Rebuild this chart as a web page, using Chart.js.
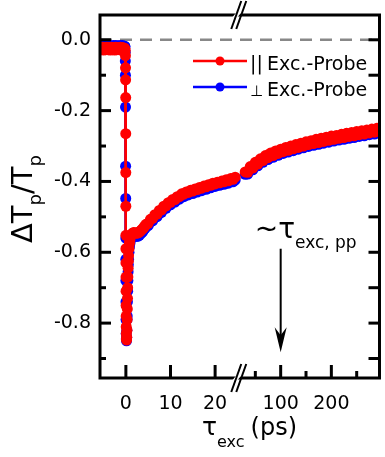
<!DOCTYPE html>
<html>
<head>
<meta charset="utf-8">
<script src="https://cdn.jsdelivr.net/npm/chart.js@4.4.1/dist/chart.umd.min.js"></script>
<style>
  html, body { margin: 0; padding: 0; background: #fff; }
</style>
</head>
<body>
<canvas id="pumpProbe" width="385" height="457"></canvas>
<script>
// broken-axis pump-probe trace, left panel in ps around t0, right panel long delays

const FONT = '"DejaVu Sans", sans-serif';
const RED = '#ff0000';
const BLUE = '#0000ff';

// axis ranges (ps / dT/T)
const X_LEFT_MIN = -5.8, X_LEFT_END = 25.3;
const X_RIGHT_START = 17.3, X_RIGHT_MAX = 295;
const Y_MIN = -0.955, Y_MAX = 0.07;

// ticks
const Y_MAJOR = [0, -0.2, -0.4, -0.6, -0.8];
const Y_MINOR = [-0.1, -0.3, -0.5, -0.7, -0.9];
const X_LEFT_TICKS = [0, 10, 20];
const X_RIGHT_MAJOR = [100, 200];
const X_RIGHT_MINOR = [50, 150, 250];
const ARROW_AT = 100;

// || Exc.-Probe, short delays
const T_PAR_L = [-5.75, -5.5, -5.25, -5.0, -4.75, -4.5, -4.25, -4.0, -3.75, -3.5, -3.25, -3.0,
  -2.75, -2.5, -2.25, -2.0, -1.75, -1.5, -1.25, -1.0, -0.75, -0.5, -0.25,
  -0.15, -0.10, -0.08, -0.06, -0.04, -0.03, -0.02, -0.01, 0.00,
  0.01, 0.02, 0.03, 0.04, 0.05, 0.06, 0.08, 0.10, 0.13, 0.16, 0.20, 0.24, 0.28, 0.32, 0.36, 0.40,
  0.45, 0.50, 0.55, 0.60, 0.70, 0.80, 0.90,
  1.00, 1.25, 1.50, 1.75, 2.00, 2.25, 2.50, 2.75, 3.00, 3.25, 3.50, 3.75, 4.00, 4.25,
  4.5, 5.0, 5.5, 6.0, 6.5, 7.0, 7.5, 8.0, 8.5, 9.0, 9.5, 10.0, 10.5, 11.0, 11.5, 12.0,
  12.5, 13.0, 13.5, 14.0, 14.5, 15.0, 15.5, 16.0, 16.5, 17.0, 17.5, 18.0, 18.5, 19.0,
  19.5, 20.0, 20.5, 21.0, 21.5, 22.0, 22.5, 23.0, 23.5, 24.0, 24.5];
const V_PAR_L = [-0.021, -0.028, -0.021, -0.029, -0.022, -0.028, -0.021, -0.028, -0.022, -0.029, -0.021, -0.028,
  -0.022, -0.029, -0.021, -0.028, -0.022, -0.028, -0.021, -0.029, -0.022, -0.028, -0.024,
  -0.030, -0.045, -0.079, -0.113, -0.163, -0.265, -0.375, -0.470, -0.552,
  -0.590, -0.630, -0.670, -0.710, -0.750, -0.780, -0.810, -0.830, -0.845, -0.848, -0.840, -0.820, -0.790, -0.760, -0.730, -0.700,
  -0.670, -0.645, -0.625, -0.610, -0.590, -0.575, -0.565,
  -0.557, -0.550, -0.546, -0.544, -0.545, -0.546, -0.546, -0.545, -0.543, -0.540, -0.537, -0.534, -0.530, -0.526,
  -0.521, -0.518, -0.507, -0.504, -0.494, -0.492, -0.482, -0.480, -0.470, -0.469, -0.460, -0.459, -0.451, -0.451, -0.443, -0.443,
  -0.435, -0.436, -0.430, -0.431, -0.425, -0.427, -0.421, -0.423, -0.417, -0.419, -0.413, -0.415, -0.409, -0.411,
  -0.405, -0.407, -0.402, -0.404, -0.399, -0.401, -0.395, -0.398, -0.392, -0.394, -0.388];

// ⊥ Exc.-Probe, short delays
const T_PERP_L = [-5.75, -5.5, -5.25, -5.0, -4.75, -4.5, -4.25, -4.0, -3.75, -3.5, -3.25, -3.0,
  -2.75, -2.5, -2.25, -2.0, -1.75, -1.5, -1.25, -1.0, -0.75, -0.5, -0.25,
  -0.20, -0.15, -0.12, -0.10, -0.08, -0.06, -0.04, -0.02, -0.01, 0.00, 0.02, 0.04, 0.07, 0.10, 0.14,
  0.18, 0.22, 0.26, 0.30, 0.35, 0.40, 0.45, 0.50, 0.55, 0.60, 0.70, 0.80, 0.90,
  1.00, 1.25, 1.50, 1.75, 2.00, 2.25, 2.50, 2.75, 3.00, 3.25, 3.50, 3.75, 4.00, 4.25,
  4.5, 5.0, 5.5, 6.0, 6.5, 7.0, 7.5, 8.0, 8.5, 9.0, 9.5, 10.0, 10.5, 11.0, 11.5, 12.0,
  12.5, 13.0, 13.5, 14.0, 14.5, 15.0, 15.5, 16.0, 16.5, 17.0, 17.5, 18.0, 18.5, 19.0,
  19.5, 20.0, 20.5, 21.0, 21.5, 22.0, 22.5, 23.0, 23.5, 24.0, 24.5];
const V_PERP_L = [-0.016, -0.021, -0.016, -0.022, -0.017, -0.021, -0.016, -0.022, -0.016, -0.021, -0.017, -0.022,
  -0.016, -0.021, -0.016, -0.022, -0.017, -0.021, -0.016, -0.022, -0.016, -0.021, -0.018,
  -0.020, -0.035, -0.060, -0.100, -0.190, -0.357, -0.448, -0.560, -0.620, -0.680, -0.740, -0.790, -0.830, -0.845, -0.850,
  -0.840, -0.820, -0.790, -0.780, -0.740, -0.710, -0.680, -0.655, -0.635, -0.620, -0.600, -0.585, -0.575,
  -0.567, -0.559, -0.555, -0.553, -0.554, -0.555, -0.555, -0.554, -0.552, -0.549, -0.545, -0.542, -0.537, -0.533,
  -0.529, -0.525, -0.515, -0.511, -0.502, -0.499, -0.490, -0.487, -0.478, -0.476, -0.468, -0.466, -0.459, -0.458, -0.451, -0.450,
  -0.443, -0.443, -0.438, -0.438, -0.433, -0.434, -0.429, -0.430, -0.425, -0.426, -0.421, -0.422, -0.417, -0.418,
  -0.413, -0.414, -0.410, -0.411, -0.407, -0.408, -0.403, -0.405, -0.400, -0.401, -0.396];

// long delays (both polarisations share the time grid)
const T_LONG = [30, 35, 40, 45, 50, 55, 60, 65, 70, 75, 80, 85, 90, 95, 100, 105, 110, 115, 120, 125,
  130, 135, 140, 145, 150, 155, 160, 165, 170, 175, 180, 185, 190, 195, 200, 205, 210, 215, 220, 225,
  230, 235, 240, 245, 250, 255, 260, 265, 270, 275, 280, 285, 290, 295];
const V_PAR_R = [-0.373, -0.374, -0.358, -0.362, -0.346, -0.351, -0.336, -0.341, -0.327, -0.333, -0.320, -0.327,
  -0.314, -0.321, -0.309, -0.316, -0.304, -0.312, -0.300, -0.308, -0.296, -0.304, -0.292, -0.300,
  -0.288, -0.296, -0.285, -0.293, -0.281, -0.290, -0.278, -0.287, -0.275, -0.284, -0.272, -0.281,
  -0.270, -0.278, -0.267, -0.276, -0.264, -0.273, -0.262, -0.271, -0.259, -0.268, -0.257, -0.266,
  -0.255, -0.263, -0.252, -0.261, -0.250, -0.259];
const V_PERP_R = [-0.380, -0.379, -0.365, -0.367, -0.353, -0.356, -0.343, -0.346, -0.334, -0.338, -0.327, -0.332,
  -0.321, -0.326, -0.316, -0.321, -0.311, -0.317, -0.307, -0.313, -0.303, -0.309, -0.299, -0.305,
  -0.295, -0.301, -0.292, -0.298, -0.288, -0.295, -0.285, -0.292, -0.282, -0.289, -0.279, -0.286,
  -0.277, -0.283, -0.274, -0.281, -0.271, -0.278, -0.269, -0.276, -0.266, -0.273, -0.264, -0.271,
  -0.262, -0.268, -0.259, -0.266, -0.257, -0.264];

// share of the plot width given to the left panel
const BREAK_FRAC = 140 / 282;

const toPts = (xs, ys) => xs.map((x, i) => ({ x, y: ys[i] }));

function series(data, color, xAxisID) {
  return {
    data, xAxisID, yAxisID: 'y',
    borderColor: color, backgroundColor: color,
    borderWidth: 2.5, pointRadius: 5.5, pointBorderWidth: 0,
    tension: 0, clip: 0
  };
}

// ── text helpers ──────────────────────────────────────────────
function drawRuns(ctx, x, y, runs) {
  // runs: [text, size, baselineShift]
  runs.forEach(([txt, size, dy]) => {
    ctx.font = size + 'px ' + FONT;
    ctx.fillText(txt, x, y + dy);
    x += ctx.measureText(txt).width;
  });
  return x;
}

// ── axes, ticks, legend, annotation ───────────────────────────
const decor = {
  id: 'decor',
  beforeDatasetsDraw(chart) {
    const { ctx, chartArea: a, scales: { y } } = chart;
    const y0 = y.getPixelForValue(0);
    ctx.save();
    ctx.strokeStyle = '#888';
    ctx.lineWidth = 2.5;
    ctx.setLineDash([12, 8]);
    ctx.beginPath(); ctx.moveTo(a.left, y0); ctx.lineTo(a.right, y0); ctx.stroke();
    ctx.restore();
  },
  afterDatasetsDraw(chart) {
    const { ctx, chartArea: a, scales: { xL, xR, y } } = chart;
    ctx.save();
    ctx.strokeStyle = '#000';
    ctx.fillStyle = '#000';
    ctx.lineWidth = 3;
    ctx.lineCap = 'butt';

    // frame
    ctx.strokeRect(a.left, a.top, a.right - a.left, a.bottom - a.top);

    // y ticks, left and right
    const line = (x1, y1, x2, y2) => { ctx.beginPath(); ctx.moveTo(x1, y1); ctx.lineTo(x2, y2); ctx.stroke(); };
    Y_MAJOR.forEach(v => { const p = y.getPixelForValue(v); line(a.left, p, a.left + 11, p); line(a.right, p, a.right - 11, p); });
    Y_MINOR.forEach(v => { const p = y.getPixelForValue(v); line(a.left, p, a.left + 6, p); line(a.right, p, a.right - 11, p); });

    // x ticks
    X_LEFT_TICKS.forEach(v => { const p = xL.getPixelForValue(v); line(p, a.bottom, p, a.bottom - 13); });
    X_RIGHT_MAJOR.forEach(v => { const p = xR.getPixelForValue(v); line(p, a.bottom, p, a.bottom - 13); });
    X_RIGHT_MINOR.forEach(v => { const p = xR.getPixelForValue(v); line(p, a.bottom, p, a.bottom - 7); });

    // tick labels
    ctx.font = '19px ' + FONT;
    ctx.textAlign = 'right';
    ctx.textBaseline = 'middle';
    Y_MAJOR.forEach(v => ctx.fillText(v.toFixed(1), a.left - 9, y.getPixelForValue(v)));
    ctx.textAlign = 'center';
    X_LEFT_TICKS.forEach(v => ctx.fillText(String(v), xL.getPixelForValue(v), a.bottom + 26));
    X_RIGHT_MAJOR.forEach(v => ctx.fillText(String(v), xR.getPixelForValue(v), a.bottom + 26));

    // axis break marks
    const bx = xL.getPixelForValue(X_LEFT_END);
    [a.top, a.bottom].forEach(ay => {
      ctx.fillStyle = '#fff';
      ctx.beginPath();
      ctx.moveTo(bx - 7, ay + 3); ctx.lineTo(bx - 2, ay - 3); ctx.lineTo(bx + 3, ay - 3); ctx.lineTo(bx - 2, ay + 3);
      ctx.closePath(); ctx.fill();
      ctx.lineWidth = 2;
      [-2.5, 2.5].forEach(o => line(bx + o - 5, ay + 14, bx + o + 5, ay - 14));
    });
    ctx.fillStyle = '#000';

    // legend
    ctx.textAlign = 'left';
    ctx.textBaseline = 'alphabetic';
    [[RED, '||', 61, 19], [BLUE, '\u22A5', 87, 15]].forEach(([c, sym, ly, fs]) => {
      ctx.strokeStyle = c; ctx.fillStyle = c; ctx.lineWidth = 2.5;
      line(193, ly, 247, ly);
      ctx.beginPath(); ctx.arc(220, ly, 4.5, 0, Math.PI * 2); ctx.fill();
      ctx.fillStyle = '#000';
      ctx.font = fs + 'px ' + FONT;
      ctx.fillText(sym, 250, ly + 9);
      ctx.font = '19px ' + FONT;
      ctx.fillText('Exc.-Probe', 267, ly + 9);
    });

    // arrow at ~tau_exc,pp
    const ax = xR.getPixelForValue(ARROW_AT);
    const yTop = y.getPixelForValue(-0.59), yTip = y.getPixelForValue(-0.882);
    ctx.strokeStyle = '#000'; ctx.fillStyle = '#000'; ctx.lineWidth = 2;
    line(ax, yTop, ax, yTip - 12);
    ctx.beginPath();
    ctx.moveTo(ax, yTip); ctx.lineTo(ax - 6, yTip - 25); ctx.lineTo(ax, yTip - 17); ctx.lineTo(ax + 6, yTip - 25);
    ctx.closePath(); ctx.fill();
    drawRuns(ctx, ax - 26, yTop - 11, [['~\u03C4', 28, 0], ['exc, pp', 17, 10]]);

    // x title
    let tx = drawRuns(ctx, 202, 435, [['\u03C4', 25, 0], ['exc', 16, 12]]);
    drawRuns(ctx, tx + 6, 435, [['(ps)', 24, 0]]);

    // y title
    ctx.translate(32, 243);
    ctx.rotate(-Math.PI / 2);
    drawRuns(ctx, 0, 0, [['\u0394T', 29, 0], ['p', 18, 9], ['/T', 29, 0], ['p', 18, 9]]);
    ctx.restore();
  }
};

const xLeftMax = X_LEFT_MIN + (X_LEFT_END - X_LEFT_MIN) / BREAK_FRAC;
const xRightMin = X_RIGHT_MAX - (X_RIGHT_MAX - X_RIGHT_START) / (1 - BREAK_FRAC);

new Chart(document.getElementById('pumpProbe'), {
  type: 'line',
  data: {
    datasets: [
      series(toPts(T_PAR_L, V_PAR_L), RED, 'xL'),
      series(toPts(T_LONG, V_PAR_R), RED, 'xR'),
      series(toPts(T_PERP_L, V_PERP_L), BLUE, 'xL'),
      series(toPts(T_LONG, V_PERP_R), BLUE, 'xR')
    ]
  },
  options: {
    responsive: false,
    animation: false,
    layout: { padding: { left: 100, right: 3, top: 15, bottom: 79 } },
    plugins: { legend: { display: false }, tooltip: { enabled: false } },
    scales: {
      xL: { type: 'linear', display: false, min: X_LEFT_MIN, max: xLeftMax },
      xR: { type: 'linear', display: false, min: xRightMin, max: X_RIGHT_MAX },
      y:  { type: 'linear', display: false, min: Y_MIN, max: Y_MAX }
    }
  },
  plugins: [decor]
});
</script>
</body>
</html>
